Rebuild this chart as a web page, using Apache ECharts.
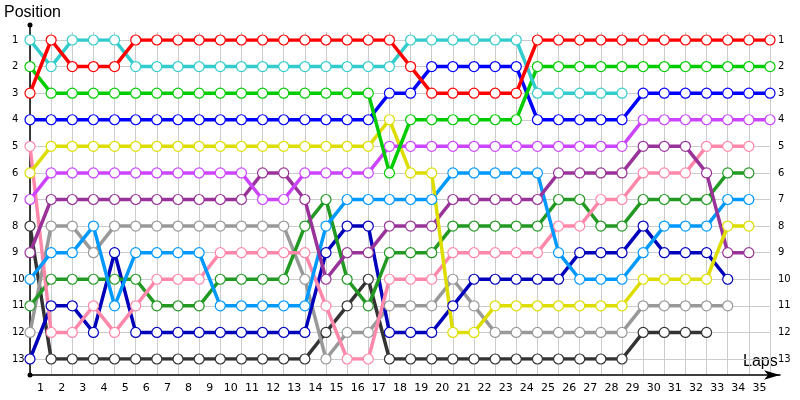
<!DOCTYPE html>
<html><head><meta charset="utf-8">
<script src="https://cdn.jsdelivr.net/npm/echarts@6/dist/echarts.min.js"></script>
<style>html,body{margin:0;padding:0;background:#fff}#c{width:800px;height:400px}</style>
</head><body><div id="c"></div>
<script>
// Tick labels
const lapLabels = ['1','2','3','4','5','6','7','8','9','10','11','12','13','14','15','16','17','18','19','20','21','22','23','24','25','26','27','28','29','30','31','32','33','34','35'];
const positionTicks = [1,2,3,4,5,6,7,8,9,10,11,12,13];

// Positions per lap (index 0 = start grid, 1..35 = laps); null = retired
const red       = [3,1,2,2,2,1,1,1,1,1,1,1,1,1,1,1,1,1,2,3,3,3,3,3,1,1,1,1,1,1,1,1,1,1,1,1];
const cyan      = [1,2,1,1,1,2,2,2,2,2,2,2,2,2,2,2,2,2,1,1,1,1,1,1,3,3,3,3,3,null,null,null,null,null,null,null];
const green     = [2,3,3,3,3,3,3,3,3,3,3,3,3,3,3,3,3,6,4,4,4,4,4,4,2,2,2,2,2,2,2,2,2,2,2,2];
const blue      = [4,4,4,4,4,4,4,4,4,4,4,4,4,4,4,4,4,3,3,2,2,2,2,2,4,4,4,4,4,3,3,3,3,3,3,3];
const pink      = [5,12,12,11,12,11,10,10,10,9,9,9,9,9,11,13,13,10,10,10,9,9,9,9,9,8,8,7,7,6,6,6,5,5,5,null];
const yellow    = [6,5,5,5,5,5,5,5,5,5,5,5,5,5,5,5,5,4,6,6,12,12,11,11,11,11,11,11,11,10,10,10,10,8,8,null];
const magenta   = [7,6,6,6,6,6,6,6,6,6,6,7,7,6,6,6,6,5,5,5,5,5,5,5,5,5,5,5,5,4,4,4,4,4,4,4];
const black     = [8,13,13,13,13,13,13,13,13,13,13,13,13,13,12,11,10,13,13,13,13,13,13,13,13,13,13,13,13,12,12,12,12,null,null,null];
const purple    = [9,7,7,7,7,7,7,7,7,7,7,6,6,7,10,9,9,8,8,8,7,7,7,7,7,6,6,6,6,5,5,5,6,9,9,null];
const lightBlue = [10,9,9,8,11,9,9,9,9,11,11,11,11,11,8,7,7,7,7,7,6,6,6,6,6,9,10,10,10,9,8,8,8,7,7,null];
const darkGreen = [11,10,10,10,10,10,11,11,11,10,10,10,10,8,7,10,11,9,9,9,8,8,8,8,8,7,7,8,8,7,7,7,7,6,6,null];
const gray      = [12,8,8,9,8,8,8,8,8,8,8,8,8,10,13,12,12,11,11,11,10,11,12,12,12,12,12,12,12,11,11,11,11,11,null,null];
const darkBlue  = [13,11,11,12,9,12,12,12,12,12,12,12,12,12,9,8,8,12,12,12,11,10,10,10,10,10,9,9,9,8,9,9,9,10,null,null];

const drivers = [
  {name:'black', color:'#333333', data:black},
  {name:'gray', color:'#999999', data:gray},
  {name:'darkBlue', color:'#0000bb', data:darkBlue},
  {name:'darkGreen', color:'#229922', data:darkGreen},
  {name:'pink', color:'#ff88aa', data:pink},
  {name:'lightBlue', color:'#0099ff', data:lightBlue},
  {name:'purple', color:'#993399', data:purple},
  {name:'yellow', color:'#dddd00', data:yellow},
  {name:'magenta', color:'#cc44ff', data:magenta},
  {name:'blue', color:'#0000ff', data:blue},
  {name:'green', color:'#00cc00', data:green},
  {name:'cyan', color:'#33cccc', data:cyan},
  {name:'red', color:'#ff0000', data:red}
];

const FONT = 'DejaVu Sans';
const chart = echarts.init(document.getElementById('c'), null, {renderer:'canvas'});
const option = {
  animation:false,
  backgroundColor:'#ffffff',
  grid:[
    {left:30,right:30,top:40,bottom:41},
    {left:30,right:30,top:32,bottom:25},
    {left:30,right:20,top:25,bottom:25}
  ],
  xAxis:[
    {gridIndex:0,type:'value',min:0,max:35,interval:1,show:false},
    {gridIndex:1,type:'value',min:0,max:35,interval:1,
      axisLine:{show:false},axisTick:{show:false},axisLabel:{show:false},
      splitLine:{show:true,lineStyle:{color:'#cccccc',width:1}}},
    {gridIndex:1,type:'category',data:lapLabels,boundaryGap:true,position:'bottom',
      axisLine:{show:false},axisTick:{show:false},splitLine:{show:false},
      axisLabel:{interval:0,margin:8,fontSize:11,color:'#000',fontFamily:FONT}},
    {gridIndex:2,type:'value',min:0,max:1,
      axisLine:{show:true,onZero:false,lineStyle:{color:'#000',width:1.5},symbol:['none','arrow'],symbolSize:[7,16]},
      axisTick:{show:false},axisLabel:{show:false},splitLine:{show:false}}
  ],
  yAxis:[
    {gridIndex:0,type:'value',min:1,max:13,interval:1,inverse:true,
      axisLine:{show:false},axisTick:{show:false},
      axisLabel:{margin:18,align:'left',fontSize:10,color:'#000',fontFamily:FONT,
        formatter:v=>positionTicks.includes(v)?String(v):''},
      splitLine:{show:true,lineStyle:{color:'#cccccc',width:1}}},
    {gridIndex:0,type:'value',min:1,max:13,interval:1,inverse:true,position:'right',
      axisLine:{show:false},axisTick:{show:false},splitLine:{show:false},
      axisLabel:{margin:8,align:'left',fontSize:10,color:'#000',fontFamily:FONT,
        formatter:v=>positionTicks.includes(v)?String(v):''}},
    {gridIndex:1,type:'value',show:false},
    {gridIndex:2,type:'value',min:0,max:1,
      axisLine:{show:true,onZero:false,lineStyle:{color:'#000',width:1.5},symbol:['circle','circle'],symbolSize:[5,5]},
      axisTick:{show:false},axisLabel:{show:false},splitLine:{show:false}}
  ],
  graphic:[
    {type:'text',left:4,top:5,style:{text:'Position',fontSize:16,fontFamily:'Liberation Sans',fill:'#000'}},
    {type:'text',left:743,top:354,style:{text:'Laps',fontSize:16,fontFamily:'Liberation Sans',fill:'#000'}}
  ],
  series: drivers.map(d=>({
    name:d.name,
    type:'line',
    xAxisIndex:0,
    yAxisIndex:0,
    data:d.data.map((v,i)=>[i,v]).filter(p=>p[1]!==null),
    showSymbol:true,
    showAllSymbol:true,
    symbol:'circle',
    symbolSize:10,
    lineStyle:{color:d.color,width:3.5},
    itemStyle:{color:'#ffffff',borderColor:d.color,borderWidth:1.2},
    emphasis:{disabled:true}
  }))
};
chart.setOption(option);
</script>
</body></html>
